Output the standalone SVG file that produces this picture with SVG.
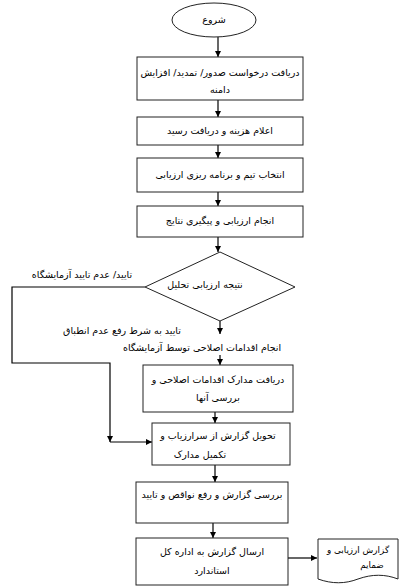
<svg xmlns="http://www.w3.org/2000/svg" width="400" height="586" viewBox="0 0 400 586">
<style>
.n{fill:#fff;stroke:#222;stroke-width:1}
.t{font-family:"DejaVu Sans",sans-serif;font-size:9.5px;fill:#000;text-anchor:middle;direction:rtl}
.s{font-size:8.8px}
.c{fill:none;stroke:#000;stroke-width:1.2}
</style>
<defs>
<marker id="a" viewBox="0 0 10 10" refX="10" refY="5" markerWidth="6" markerHeight="6" markerUnits="userSpaceOnUse" orient="auto">
<path d="M0,0L10,5L0,10z" fill="#000"/>
</marker>
</defs>
<rect width="400" height="586" fill="#fff"/>
<g id="connectors">
<path class="c" d="M218,37V57" marker-end="url(#a)"/>
<path class="c" d="M218,100V117" marker-end="url(#a)"/>
<path class="c" d="M218,145V158" marker-end="url(#a)"/>
<path class="c" d="M218,192V206" marker-end="url(#a)"/>
<path class="c" d="M218,237V252" marker-end="url(#a)"/>
<path class="c" d="M145,287H12V363H110V442" marker-end="url(#a)"/>
<path class="c" d="M110,442H152" marker-end="url(#a)"/>
<path class="c" d="M220,321V334" marker-end="url(#a)"/>
<path class="c" d="M220,355V365" marker-end="url(#a)"/>
<path class="c" d="M215,412V423" marker-end="url(#a)"/>
<path class="c" d="M215,465V482" marker-end="url(#a)"/>
<path class="c" d="M213,523V538" marker-end="url(#a)"/>
<path class="c" d="M288,558H317" marker-end="url(#a)"/>
<text class="t" x="82" y="278">تایید/ عدم تایید آزمایشگاه</text>
<text class="t" x="122" y="334">تایید به شرط رفع عدم انطباق</text>
<text class="t" x="202" y="351">انجام اقدامات اصلاحی توسط آزمایشگاه</text>
</g>
<g id="start">
<ellipse class="n" cx="214" cy="20" rx="42" ry="17"/>
<text class="t" x="214" y="23">شروع</text>
</g>
<g id="n1">
<rect class="n" x="137" y="57" width="166" height="43"/>
<text class="t" x="220" y="76">دریافت درخواست صدور/ تمدید/ افزایش</text>
<text class="t" x="220" y="93">دامنه</text>
</g>
<g id="n2">
<rect class="n" x="137" y="117" width="166" height="28"/>
<text class="t" x="220" y="134">اعلام هزینه و دریافت رسید</text>
</g>
<g id="n3">
<rect class="n" x="137" y="158" width="166" height="34"/>
<text class="t" x="220" y="178">انتخاب تیم و برنامه ریزی ارزیابی</text>
</g>
<g id="n4">
<rect class="n" x="137" y="206" width="166" height="31"/>
<text class="t" x="220" y="224">انجام ارزیابی و پیگیری نتایج</text>
</g>
<g id="decision">
<polygon class="n" points="220,252 295,287 220,321 145,287"/>
<text class="t" x="205" y="288">نتیجه ارزیابی تحلیل</text>
</g>
<g id="n5">
<rect class="n" x="143" y="365" width="150" height="47"/>
<text class="t" x="218" y="383">دریافت مدارک اقدامات اصلاحی و</text>
<text class="t" x="218" y="401">بررسی آنها</text>
</g>
<g id="n6">
<rect class="n" x="152" y="423" width="138" height="42"/>
<text class="t" x="218" y="439">تحویل گزارش از سرارزیاب و</text>
<text class="t" x="200" y="458">تکمیل مدارک</text>
</g>
<g id="n7">
<rect class="n" x="136" y="482" width="152" height="41"/>
<text class="t" x="212" y="498">بررسی گزارش و رفع نواقص و تایید</text>
</g>
<g id="n8">
<rect class="n" x="136" y="538" width="152" height="47"/>
<text class="t" x="212" y="555">ارسال گزارش به اداره کل</text>
<text class="t" x="212" y="574">استاندارد</text>
</g>
<g id="doc">
<path class="n" d="M318,539H398V579C385,574 372,574 358,579C345,584 332,584 318,579Z"/>
<text class="t s" x="358" y="553">گزارش ارزیابی  و</text>
<text class="t s" x="372" y="568">ضمایم</text>
</g>
</svg>
